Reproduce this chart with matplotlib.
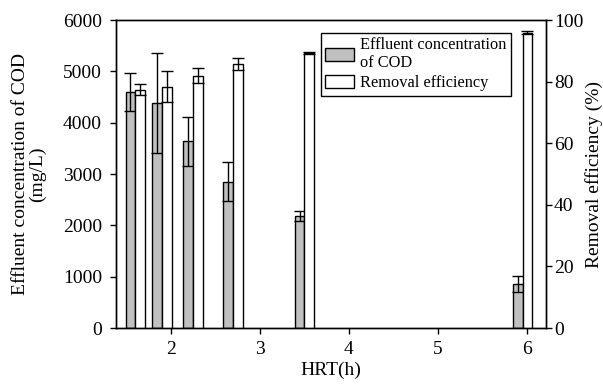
import numpy as np
import matplotlib.pyplot as plt

plt.rcParams['font.family'] = ['Liberation Serif', 'DejaVu Serif']

# HRT groups (h)
hrt = [1.6, 1.9, 2.25, 2.7, 3.5, 5.95]

# Effluent COD (mg/L) and error
cod = [4590, 4380, 3640, 2850, 2180, 860]
cod_err = [370, 970, 480, 380, 90, 160]

# Removal efficiency (%) and error
eff = [77.3, 78.3, 81.9, 85.8, 89.3, 95.8]
eff_err = [1.8, 5.0, 2.5, 1.9, 0.3, 0.5]

w = 0.11
x = np.array(hrt)

fig = plt.figure(figsize=(6.03, 3.85), dpi=100)
ax = fig.add_axes([0.192, 0.148, 0.713, 0.80])
ax2 = ax.twinx()

b1 = ax.bar(x - w / 2, cod, w, color='#c0c0c0', edgecolor='black', linewidth=1,
            yerr=cod_err, capsize=4, error_kw=dict(elinewidth=1, capthick=1))
b2 = ax2.bar(x + w / 2, eff, w, color='white', edgecolor='black', linewidth=1,
             yerr=eff_err, capsize=4, error_kw=dict(elinewidth=1, capthick=1))

ax.set_xlim(1.38, 6.21)
ax.set_ylim(0, 6000)
ax2.set_ylim(0, 100)
ax.set_xticks([2, 3, 4, 5, 6])
ax.set_yticks(range(0, 6001, 1000))
ax2.set_yticks(range(0, 101, 20))

for a in (ax, ax2):
    a.tick_params(labelsize=14, width=1, length=4, direction='out', pad=2)
    for s in a.spines.values():
        s.set_linewidth(1)
ax.tick_params(axis='y', pad=6)
ax.tick_params(axis='x', pad=5)

ax.set_xlabel('HRT(h)', fontsize=14, labelpad=3)
ax.set_ylabel('Effluent concentration of COD\n(mg/L)', fontsize=14,
              linespacing=1.0, labelpad=12)
ax2.set_ylabel('Removal efficiency (%)', fontsize=14, labelpad=1)

ax.legend([b1, b2], ['Effluent concentration\nof COD', 'Removal efficiency'],
          loc='upper left', bbox_to_anchor=(0.458, 0.985), fontsize=11.8,
          fancybox=False, edgecolor='black', framealpha=1,
          handlelength=1.8, handleheight=0.8, borderpad=0.25,
          labelspacing=0.25, handletextpad=0.35)
ax.legend_.get_frame().set_linewidth(1)

fig.savefig('out.png', dpi=100)
